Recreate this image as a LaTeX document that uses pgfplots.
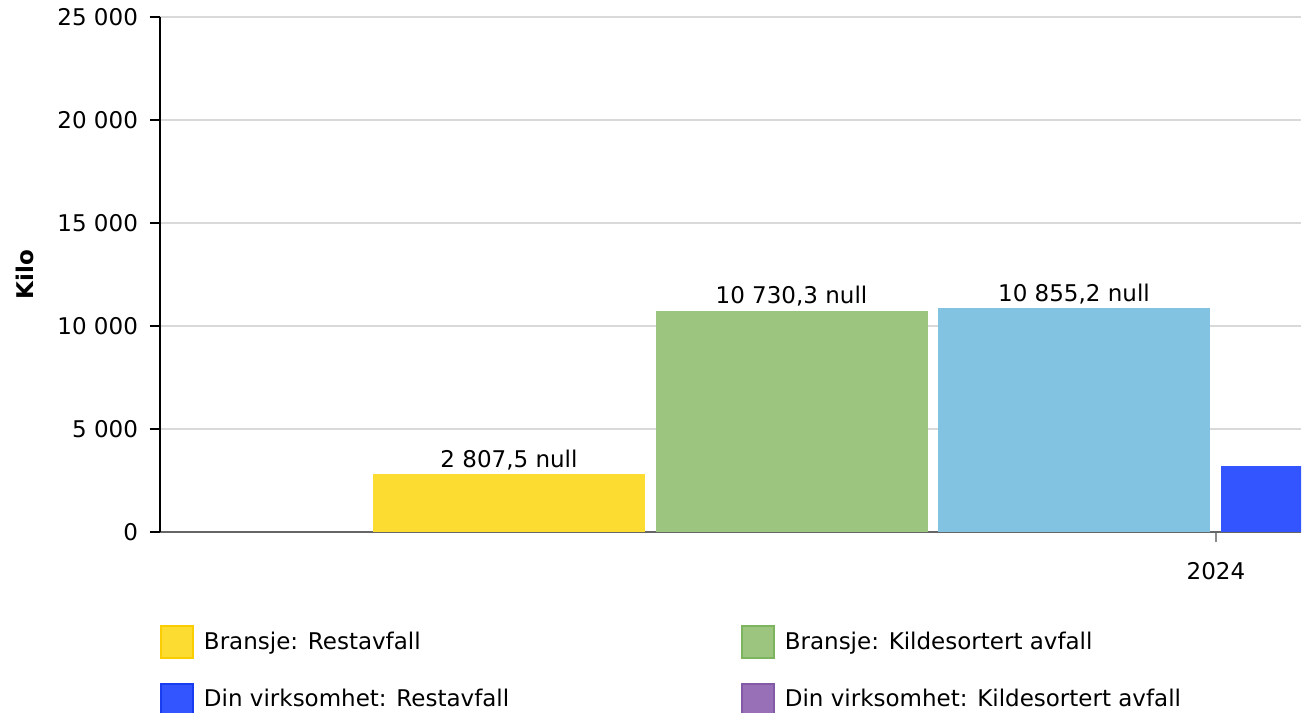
\documentclass[border=0pt]{standalone}
\usepackage{fontspec}
\setmainfont{DejaVu Sans}
\usepackage{pgfplots}
\pgfplotsset{compat=1.18}
\pgfkeys{/pgf/number format/assume math mode=true}
\definecolor{cYel}{RGB}{253,220,50}
\definecolor{cYelD}{RGB}{250,205,0}
\definecolor{cGrn}{RGB}{156,197,127}
\definecolor{cGrnD}{RGB}{125,180,95}
\definecolor{cLbl}{RGB}{131,195,226}
\definecolor{cBlu}{RGB}{51,85,255}
\definecolor{cBluD}{RGB}{25,60,240}
\definecolor{cPur}{RGB}{151,112,183}
\definecolor{cPurD}{RGB}{130,90,165}
\pgfplotsset{
  mybar/.style={ybar, bar width=272, bar shift=0pt, draw opacity=0,
    legend image code/.code={\draw[##1, draw opacity=1, line width=0.8pt] (0pt,-8pt) rectangle (16pt,8pt);}},
  mylabels/.style={nodes near coords={\pgfmathprintnumber[fixed,precision=1,use comma,1000 sep={\ },assume math mode=true]{\pgfplotspointmeta}\ null},
    point meta=y, every node near coord/.append style={black, draw opacity=1, font=\fontsize{11.5pt}{13.8pt}\selectfont, inner sep=2pt}},
}
\begin{document}
\fontsize{11.5pt}{13.8pt}\selectfont
\begin{tikzpicture}[font=\fontsize{11.5pt}{13.8pt}\selectfont]
\useasboundingbox (-80pt,-90pt) rectangle (575.5pt,266pt);
\begin{axis}[
  at={(0pt,0pt)}, anchor=south west,
  scale only axis, width=570.5pt, height=257.5pt,
  xmin=160, xmax=1301, ymin=0, ymax=25000,
  axis x line*=bottom, axis y line*=left,
  ytick={0,5000,10000,15000,20000,25000},
  xtick={1216}, xticklabels={2024},
  ymajorgrids, grid style={draw=black!15, line width=0.6pt},
  tick align=outside, major tick length=5pt,
  y axis line style={black, line width=0.8pt},
  x axis line style={black!60, line width=0.8pt},
  ytick style={black, line width=0.8pt},
  xtick style={black!45, line width=0.6pt},
  /pgf/number format/1000 sep={\ },
  scaled y ticks=false,
  yticklabel style={anchor=east, xshift=-2pt},
  xticklabel style={yshift=-6pt},
  ylabel={\textbf{Kilo}},
  ylabel style={at={(axis description cs:-0.1183,0.5)}, anchor=center},
  legend columns=2, legend cell align=left,
  legend style={at={(axis description cs:0,-0.1806)}, anchor=north west,
    draw=none, fill=none, inner sep=0pt, row sep=12pt,
    nodes={inner sep=0pt, text=black},
    /tikz/every odd column/.append style={column sep=5pt},
    /tikz/every even column/.append style={column sep=116pt}},
]
\addplot[mybar, mylabels, fill=cYel, draw=cYelD] coordinates {(509,2807.5)};
\addlegendentry{Bransje: Restavfall}
\addplot[mybar, mylabels, fill=cGrn, draw=cGrnD] coordinates {(791.5,10730.3)};
\addlegendentry{Bransje: Kildesortert avfall}
\addplot[mybar, mylabels, fill=cLbl, forget plot] coordinates {(1074,10855.2)};
\addplot[mybar, mylabels, fill=cBlu, draw=cBluD] coordinates {(1356.5,3215)};
\addlegendentry{Din virksomhet: Restavfall}
\addlegendimage{mybar, fill=cPur, draw=cPurD}
\addlegendentry{Din virksomhet: Kildesortert avfall}
\end{axis}
\end{tikzpicture}
\end{document}
